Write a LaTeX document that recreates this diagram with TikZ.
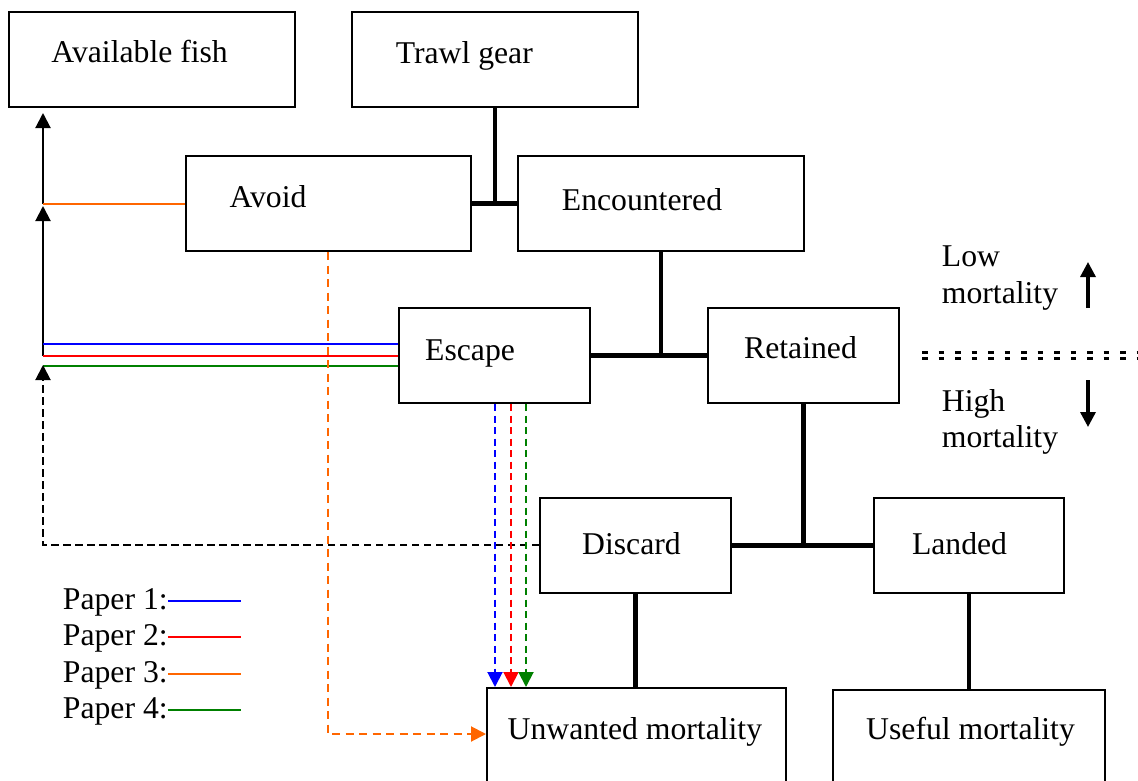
\documentclass[tikz,border=0pt]{standalone}
\usepackage{fontspec}
\setmainfont{Liberation Serif}
\usetikzlibrary{arrows.meta}
\definecolor{pblue}{RGB}{0,0,255}
\definecolor{pred}{RGB}{255,0,0}
\definecolor{porange}{RGB}{255,102,0}
\definecolor{pgreen}{RGB}{0,128,0}
\begin{document}
\begin{tikzpicture}[x=1bp,y=-1bp,
  box/.style={draw, line width=2bp, inner sep=0pt},
  txt/.style={anchor=base west, inner sep=0pt, font=\fontsize{31.7bp}{38bp}\selectfont},
  conn/.style={line width=4.5bp},
  thinline/.style={line width=2bp},
  tip/.style={-{Triangle[length=15bp,width=15bp]}},
  pline/.style={line width=2bp},
  pdash/.style={line width=2bp, dash pattern=on 7bp off 4.5bp},
  mortarrow/.style={line width=3.3bp, -{Triangle[length=15bp,width=15bp]}},
  sep/.style={line width=2.5bp, dash pattern=on 5.5bp off 11bp}]
\useasboundingbox (0,0) rectangle (1138,781);

% boxes
\node[box, minimum width=286bp, minimum height=95bp] (avail) at (152,59.5) {};
\node[box, minimum width=286bp, minimum height=95bp] (trawl) at (495,59.5) {};
\node[box, minimum width=285bp, minimum height=95bp] (avoid) at (328.5,203.5) {};
\node[box, minimum width=286bp, minimum height=95bp] (enc) at (661,203.5) {};
\node[box, minimum width=191bp, minimum height=95bp] (escape) at (494.5,355.5) {};
\node[box, minimum width=191bp, minimum height=95bp] (retained) at (803.5,355.5) {};
\node[box, minimum width=191bp, minimum height=95bp] (discard) at (635.5,545.5) {};
\node[box, minimum width=190bp, minimum height=95bp] (landed) at (969,545.5) {};
\node[box, minimum width=299bp, minimum height=112bp] (unwanted) at (636.5,744) {};
\node[box, minimum width=272bp, minimum height=110bp] (useful) at (969,745) {};

% box texts
\node[txt] (availT) at (51.3,62.3) {Available fish};
\node[txt] (trawlT) at (395.6,64) {Trawl gear};
\node[txt] (avoidT) at (229.4,207.3) {Avoid};
\node[txt] (encT) at (561.7,210.3) {Encountered};
\node[txt] (escapeT) at (425,360) {Escape};
\node[txt] (retainedT) at (744,358.3) {Retained};
\node[txt] (discardT) at (582,554) {Discard};
\node[txt] (landedT) at (911.8,554) {Landed};
\node[txt] (unwantedT) at (507.5,739) {Unwanted mortality};
\node[txt] (usefulT) at (866,739) {Useful mortality};

% mortality side texts
\node[txt] (lowT) at (941.7,266) {Low};
\node[txt] (lowM) at (941.7,303) {mortality};
\node[txt] (highT) at (941.7,411) {High};
\node[txt] (highM) at (941.7,447) {mortality};

% legend
\node[txt] (p1) at (62.7,609) {Paper 1:};
\node[txt] (p2) at (62.7,645) {Paper 2:};
\node[txt] (p3) at (62.7,682) {Paper 3:};
\node[txt] (p4) at (62.7,718) {Paper 4:};
\draw[pline, pblue] ([yshift=8bp]p1.base east) -- ++(73,0);
\draw[pline, pred] ([yshift=8bp]p2.base east) -- ++(73,0);
\draw[pline, porange] ([yshift=8bp]p3.base east) -- ++(73,0);
\draw[pline, pgreen] ([yshift=8bp]p4.base east) -- ++(73,0);

% tree connectors
\draw[conn] (trawl.south) -- (trawl.south |- avoid.east);
\draw[conn] (avoid.east) -- (enc.west);
\draw[conn] (enc.south) -- (enc.south |- escape.east);
\draw[conn] (escape.east) -- (retained.west);
\draw[conn] (retained.south) -- (retained.south |- discard.east);
\draw[conn] (discard.east) -- (landed.west);
\draw[conn] (discard.south) -- (discard.south |- unwanted.north);
\draw[conn] (landed.south) -- (useful.north);

% left return path
\coordinate (ltop) at (43,113);
\coordinate (ljoin) at (43,204);
\coordinate (lmid) at (43,206);
\coordinate (lbot) at (43,356);
\coordinate (b1) at (43,344);
\coordinate (b2) at (43,356);
\coordinate (b3) at (43,366);
\coordinate (dj) at (0,545);
\coordinate (dtip) at (43,365);

\draw[thinline, tip] (ljoin) -- (ltop);
\draw[thinline, tip] (lbot) -- (lmid);
\draw[pline, porange] (avoid.west |- ljoin) -- (ljoin);
\draw[pline, pblue] (escape.west |- b1) -- (b1);
\draw[pline, pred] (escape.west |- b2) -- (b2);
\draw[pline, pgreen] (escape.west |- b3) -- (b3);
\draw[thinline, dash pattern=on 7.5bp off 4.5bp, tip] (discard.west |- dj) -| (dtip);

% escape -> unwanted dashed arrows
\coordinate (ex1) at (495,0);
\coordinate (ex2) at (511,0);
\coordinate (ex3) at (526,0);
\draw[pdash, pblue, tip] (ex1 |- escape.south) -- (ex1 |- unwanted.north);
\draw[pdash, pred, tip] (ex2 |- escape.south) -- (ex2 |- unwanted.north);
\draw[pdash, pgreen, tip] (ex3 |- escape.south) -- (ex3 |- unwanted.north);

% avoid -> unwanted orange dashed arrow
\coordinate (oc) at (328,734);
\draw[pdash, porange, dash pattern=on 8bp off 5.5bp, tip] (oc |- avoid.south) |- (unwanted.west |- oc);

% mortality separator and arrows
\coordinate (s1a) at (922,352.5);
\coordinate (s1b) at (1138,352.5);
\coordinate (s2a) at (922,358.5);
\coordinate (s2b) at (1138,358.5);
\draw[sep] (s1a) -- (s1b);
\draw[sep] (s2a) -- (s2b);
\coordinate (ua) at (1088,308);
\coordinate (ub) at (1088,262);
\coordinate (da) at (1088,380);
\coordinate (db) at (1088,427);
\draw[mortarrow] (ua) -- (ub);
\draw[mortarrow] (da) -- (db);
\end{tikzpicture}
\end{document}
